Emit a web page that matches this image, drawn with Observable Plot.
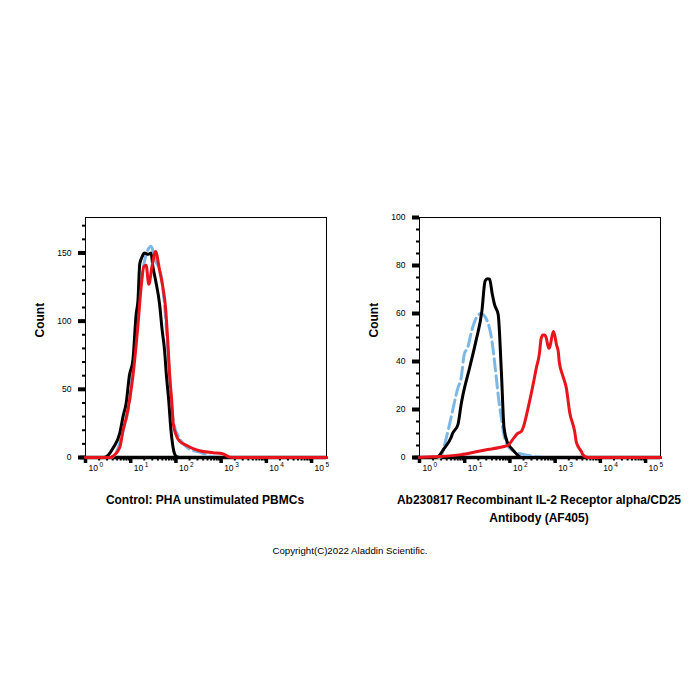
<!DOCTYPE html>
<html>
<head>
<meta charset="utf-8">
<script src="https://cdn.jsdelivr.net/npm/d3@7"></script>
<script src="https://cdn.jsdelivr.net/npm/@observablehq/plot@0.6"></script>
<style>
  html, body { margin: 0; padding: 0; background: #fff; }
  #page { position: relative; width: 700px; height: 700px; background: #fff; font-family: "Liberation Sans", Arial, sans-serif; }
  .panel { position: absolute; top: 200px; }
  .title { position: absolute; text-align: center; font-weight: bold; font-size: 12px; line-height: 18px; color: #000; }
  #copyright { position: absolute; left: 0; width: 700px; top: 544px; text-align: center; font-size: 9.7px; line-height: 14px; color: #000; }
</style>
</head>
<body>
<div id="page">
  <div id="left" class="panel" style="left:0px"></div>
  <div id="right" class="panel" style="left:334px"></div>
  <div class="title" style="left:55px; width:300px; top:491px">Control: PHA unstimulated PBMCs</div>
  <div class="title" style="left:369px; width:340px; top:491px">Ab230817 Recombinant IL-2 Receptor alpha/CD25<br>Antibody (AF405)</div>
  <div id="copyright">Copyright(C)2022 Aladdin Scientific.</div>
</div>
<script>
// Histogram traces: x positions are log10 fluorescence intensity, y is event count.

// Control panel (PHA unstimulated PBMCs)
const ctrlIsotypeLog   = [0, 0.56, 0.71, 0.85, 0.97, 1.10, 1.20, 1.30, 1.39, 1.45, 1.54, 1.67, 1.74, 1.82, 1.89, 1.95, 2.08, 2.23, 2.38, 2.52, 2.67, 2.82, 3.01, 5.33];
const ctrlIsotypeCount = [0, 0, 6, 22, 40, 85, 120, 143, 153, 155, 145, 134, 115, 80, 45, 25, 14, 8, 5, 4, 2, 0.5, 0, 0];

const ctrlUnstainedLog   = [0, 0.41, 0.51, 0.61, 0.76, 0.83, 0.90, 0.97, 1.05, 1.12, 1.16, 1.20, 1.25, 1.30, 1.39, 1.45, 1.49, 1.55, 1.64, 1.69, 1.75, 1.79, 1.84, 1.89, 1.95, 2.00, 2.08, 5.33];
const ctrlUnstainedCount = [0, 0, 2, 7, 18, 30, 40, 60, 72, 105, 115, 142, 147, 150, 149, 150, 140, 130, 112, 95, 78, 60, 42, 20, 5, 1, 0, 0];

const ctrlStainedLog   = [0, 0.56, 0.61, 0.76, 0.83, 0.90, 1.05, 1.16, 1.23, 1.29, 1.34, 1.40, 1.47, 1.55, 1.64, 1.71, 1.77, 1.82, 1.86, 1.91, 1.94, 2.01, 2.08, 2.23, 2.38, 2.52, 2.82, 3.03, 3.11, 3.18, 3.26, 5.33];
const ctrlStainedCount = [0, 0, 1, 7.5, 20, 29, 60, 97, 125, 140, 141, 127, 140, 151, 137, 125, 110, 85, 61, 40, 25, 16, 12, 9, 6.5, 5, 3.5, 2.7, 1.5, 0.3, 0, 0];

// CD25 panel
const cd25IsotypeLog   = [0, 0.45, 0.59, 0.69, 0.85, 0.92, 0.99, 1.07, 1.15, 1.25, 1.36, 1.47, 1.59, 1.70, 1.74, 1.81, 1.87, 1.95, 2.10, 2.25, 2.56, 2.76, 5.33];
const cd25IsotypeCount = [0, 0, 8, 16, 29, 33, 43, 46, 52.5, 58, 60, 58, 50, 33, 26, 16.5, 9.3, 5, 2.5, 1.5, 0.5, 0, 0];

const cd25UnstainedLog   = [0, 0.37, 0.55, 0.69, 0.73, 0.85, 0.92, 0.96, 1.11, 1.25, 1.38, 1.45, 1.50, 1.55, 1.61, 1.66, 1.74, 1.81, 1.87, 1.95, 2.03, 2.12, 2.25, 5.33];
const cd25UnstainedCount = [0, 0, 3.9, 8, 10, 13.7, 22, 26, 37.5, 48.7, 61, 73.5, 74.5, 74.3, 68, 63.7, 59.6, 36, 12.3, 6, 3.9, 2, 0, 0];

const cd25StainedLog   = [0, 0.30, 0.92, 1.28, 1.51, 1.87, 1.95, 2.10, 2.17, 2.25, 2.29, 2.40, 2.54, 2.58, 2.65, 2.69, 2.73, 2.77, 2.80, 2.86, 2.88, 2.96, 2.99, 3.03, 3.07, 3.09, 3.17, 3.25, 3.32, 3.43, 3.47, 3.58, 3.62, 3.72, 5.33];
const cd25StainedCount = [0, 0.3, 1.2, 2.5, 3.3, 4.6, 5, 8.5, 10, 10.8, 12.3, 20.5, 33, 37, 43, 49.5, 51, 51, 50, 45.5, 46, 52.5, 51, 47, 44, 40, 34, 28.7, 19, 11, 6.3, 2.5, 1, 0, 0];

// Axis ticks and labels
const xMajorTicks = [1, 10, 100, 1000, 10000, 100000];
const xMajorExponents = ["0", "1", "2", "3", "4", "5"];
const xMinorTicks = xMajorTicks.slice(0, 5).flatMap(p => [2, 3, 4, 5, 6, 7, 8, 9].map(m => m * p));
const xTopLog = 5.33;

const ctrlYMajor = [0, 50, 100, 150];
const ctrlYMinor = [10, 20, 30, 40, 60, 70, 80, 90, 110, 120, 130, 140, 160, 170];
const ctrlYMax = 176;

const cd25YMajor = [0, 20, 40, 60, 80, 100];
const cd25YMinor = [5, 10, 15, 25, 30, 35, 45, 50, 55, 65, 70, 75, 85, 90, 95];
const cd25YMax = 100;

const colors = { isotype: "#7db7e5", unstained: "#000000", stained: "#e8141c" };
const FONT = "Liberation Sans, Arial, sans-serif";

function toRows(logs, counts) {
  return logs.map((l, i) => ({ intensity: Math.pow(10, l), count: counts[i] }));
}

function histogramPanel({ series, yMajor, yMinor, yMax }) {
  const line = (rows, stroke, extra = {}) =>
    Plot.line(rows, { x: "intensity", y: "count", stroke, strokeWidth: 3, curve: "monotone-x", ...extra });

  return Plot.plot({
    width: 340,
    height: 290,
    marginLeft: 85,
    marginRight: 14,
    marginTop: 17,
    marginBottom: 33,
    style: { fontFamily: FONT, background: "transparent", overflow: "visible" },
    x: { type: "log", domain: [1, Math.pow(10, xTopLog)] },
    y: { domain: [0, yMax] },
    marks: [
      Plot.frame({ stroke: "#000", strokeWidth: 1 }),
      // y axis: heavy labelled ticks and small minor ticks
      Plot.axisY(yMajor, { label: null, tickSize: 7, strokeWidth: 4, tickPadding: 7, fontSize: 8.5, fill: "#000", tickFormat: d => String(d) }),
      Plot.axisY(yMinor, { label: null, tickSize: 3, strokeWidth: 2, tickFormat: () => "" }),
      // x axis: thick baseline, heavy decade ticks, minor ticks
      Plot.ruleY([0], { stroke: "#000", strokeWidth: 3.5, insetLeft: -5 }),
      Plot.axisX(xMajorTicks, { label: null, tickSize: 6, strokeWidth: 3.5, tickFormat: () => "" }),
      Plot.axisX(xMinorTicks, { label: null, tickSize: 3.5, strokeWidth: 2, tickFormat: () => "" }),
      Plot.text(xMajorTicks, { x: d => d, frameAnchor: "bottom", text: () => "10", dy: 13, dx: 3, textAnchor: "start", fontSize: 8.5, fill: "#000" }),
      Plot.text(xMajorTicks, { x: d => d, frameAnchor: "bottom", text: (d, i) => xMajorExponents[i], dy: 9, dx: 14, textAnchor: "start", fontSize: 6.5, fill: "#000" }),
      Plot.text(["Count"], { frameAnchor: "left", text: d => d, rotate: -90, dx: -45, fontSize: 12, fontWeight: "bold", fill: "#000" }),
      // histogram traces
      line(series.isotype, colors.isotype, { strokeDasharray: "12,5" }),
      line(series.unstained, colors.unstained),
      line(series.stained, colors.stained)
    ]
  });
}

document.getElementById("left").appendChild(histogramPanel({
  series: {
    isotype: toRows(ctrlIsotypeLog, ctrlIsotypeCount),
    unstained: toRows(ctrlUnstainedLog, ctrlUnstainedCount),
    stained: toRows(ctrlStainedLog, ctrlStainedCount)
  },
  yMajor: ctrlYMajor, yMinor: ctrlYMinor, yMax: ctrlYMax
}));

document.getElementById("right").appendChild(histogramPanel({
  series: {
    isotype: toRows(cd25IsotypeLog, cd25IsotypeCount),
    unstained: toRows(cd25UnstainedLog, cd25UnstainedCount),
    stained: toRows(cd25StainedLog, cd25StainedCount)
  },
  yMajor: cd25YMajor, yMinor: cd25YMinor, yMax: cd25YMax
}));
</script>
</body>
</html>
